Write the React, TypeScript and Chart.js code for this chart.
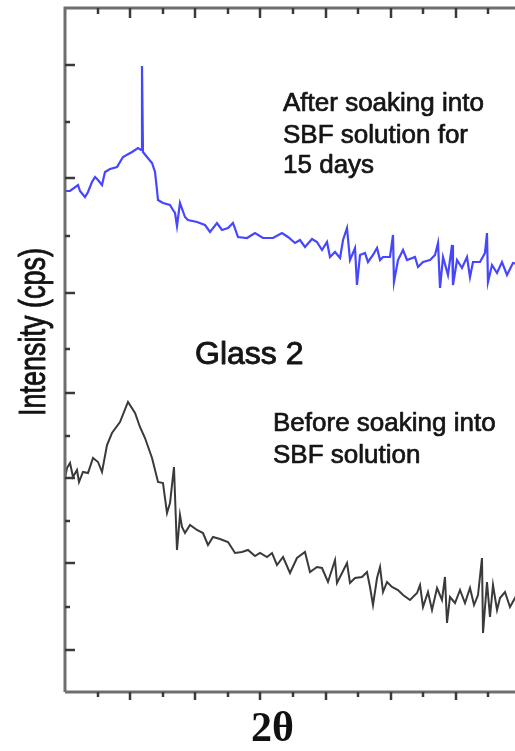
import { useEffect, useRef } from "react";
import { Chart, registerables } from "chart.js";

Chart.register(...registerables);

// ---- Data (2θ in degrees, intensity in cps) ----
const blueTheta = [
  10.0, 10.77, 12.0, 12.3, 13.07, 13.53, 14.14, 14.61, 15.07, 15.68, 16.14, 16.91, 17.98, 18.9, 20.29, 21.21,
  21.67, 21.82, 21.97, 22.59, 23.36, 23.82, 24.12, 24.28, 25.04, 26.12, 26.58, 26.89, 27.19, 27.65, 28.42,
  28.88, 30.26, 31.49, 32.26, 33.33, 34.1, 35.02, 35.79, 36.56, 37.94, 39.17, 40.39, 41.93, 43.31, 44.23,
  45.31, 46.07, 46.84, 47.92, 48.68, 49.45, 50.22, 50.68, 51.45, 52.22, 52.68, 53.29, 53.75, 54.52, 54.82,
  55.29, 56.05, 56.51, 57.28, 57.9, 58.36, 58.82, 59.89, 60.35, 60.5, 61.12, 61.89, 62.5, 63.73, 64.19,
  64.96, 66.03, 66.8, 67.26, 67.57, 68.03, 68.79, 69.41, 69.56, 70.18, 70.94, 71.71, 72.17, 72.63, 73.71,
  74.47, 74.78, 74.93, 75.55, 76.32, 77.08, 77.85, 78.77, 80.0,
];
const blueCps = [
  1002, 1002, 1014, 1002, 990, 1000, 1020, 1030, 1024, 1014, 1040, 1046, 1050, 1070, 1080, 1088,
  1084, 1252, 1080, 1070, 1058, 1040, 1004, 984, 978, 974, 964, 958, 932, 978, 950,
  944, 940, 934, 920, 938, 924, 928, 938, 910, 908, 918, 908, 908, 918, 910,
  898, 904, 890, 906, 900, 884, 900, 870, 880, 868, 904, 928, 864, 888, 814,
  874, 878, 860, 874, 888, 864, 870, 870, 914, 820, 864, 884, 864, 870, 850,
  860, 864, 874, 898, 808, 870, 834, 894, 814, 864, 848, 870, 830, 860, 860,
  878, 918, 820, 854, 838, 860, 834, 858, 854,
];

const blackTheta = [
  10.0, 10.31, 10.77, 11.23, 11.84, 12.15, 12.76, 13.53, 14.3, 15.07, 15.68, 16.45, 17.21, 18.44, 19.67,
  20.75, 21.51, 22.28, 23.36, 24.28, 25.04, 25.66, 26.12, 26.73, 27.19, 27.65, 27.96, 28.42, 29.19, 30.26,
  31.18, 31.95, 32.72, 33.79, 35.02, 36.1, 37.17, 38.09, 39.17, 39.93, 41.01, 41.78, 42.54, 43.47, 44.54,
  45.61, 46.84, 47.61, 48.68, 49.45, 50.37, 51.45, 51.75, 52.22, 53.29, 53.75, 54.52, 55.59, 56.36, 56.82,
  57.28, 57.9, 58.36, 58.82, 59.43, 60.2, 61.12, 61.89, 62.96, 64.04, 64.5, 64.96, 65.72, 66.34, 67.11,
  67.87, 68.33, 68.64, 69.1, 69.87, 70.64, 71.4, 72.17, 72.79, 73.4, 74.01, 74.17, 74.78, 75.24, 75.7,
  76.32, 76.78, 77.54, 78.31, 79.08, 80.0,
];
const blackCps = [
  428, 448, 458, 430, 444, 420, 440, 438, 468, 460, 440, 494, 518, 540, 580,
  558, 530, 508, 468, 420, 418, 358, 378, 450, 284, 354, 330, 318, 334, 324,
  318, 294, 310, 306, 300, 278, 280, 284, 272, 278, 270, 278, 254, 270, 238,
  268, 280, 240, 250, 248, 220, 264, 218, 230, 258, 218, 228, 230, 240, 210,
  174, 228, 250, 200, 220, 210, 204, 194, 184, 198, 214, 170, 200, 164, 208,
  184, 230, 138, 190, 178, 204, 178, 208, 174, 194, 268, 118, 220, 150, 214,
  164, 188, 200, 170, 188, 176,
];

const xMin = 10;
const xMax = 80;
const yMin = 0;
const yMax = 1368;
const xMajorTicks = [20, 30, 40, 50, 60, 70];
const xMinorTicks = [15, 25, 35, 45, 55, 65, 75];
const yMajorTicks = [1254, 1028, 798, 598, 428, 258, 84];
const yMinorTicks = [1140, 912, 686, 512, 342, 170];

const xTitle = "2θ";
const yTitle = "Intensity (cps)";
const afterLines = ["After soaking into", "SBF solution for", "15 days"];
const beforeLines = ["Before soaking into", "SBF solution"];
const sampleLabel = "Glass 2";

const framePlugin = {
  id: "framePlugin",
  afterDraw(chart: any) {
    const ctx = chart.ctx as CanvasRenderingContext2D;
    const { left, right, top, bottom } = chart.chartArea;
    const xs = chart.scales.x;
    const ys = chart.scales.y;
    ctx.save();
    // frame
    ctx.strokeStyle = "#6f6f6f";
    ctx.lineWidth = 3;
    ctx.beginPath();
    ctx.moveTo(left, bottom);
    ctx.lineTo(left, top);
    ctx.lineTo(right, top);
    ctx.lineTo(right, bottom);
    ctx.lineTo(left, bottom);
    ctx.stroke();

    // ticks
    ctx.strokeStyle = "#3a3a3a";
    ctx.lineWidth = 2.5;
    const line = (x1: number, y1: number, x2: number, y2: number) => {
      ctx.beginPath();
      ctx.moveTo(x1, y1);
      ctx.lineTo(x2, y2);
      ctx.stroke();
    };
    xMajorTicks.forEach((v) => {
      const p = Math.round(xs.getPixelForValue(v));
      line(p, top, p, top + 10);
      line(p, bottom, p, bottom + 8);
    });
    xMinorTicks.forEach((v) => {
      const p = Math.round(xs.getPixelForValue(v));
      line(p, top, p, top + 6);
      line(p, bottom, p, bottom + 5);
    });
    yMajorTicks.forEach((v) => {
      const p = Math.round(ys.getPixelForValue(v));
      line(left, p, left + 10, p);
    });
    yMinorTicks.forEach((v) => {
      const p = Math.round(ys.getPixelForValue(v));
      line(left, p, left + 5, p);
    });

    // annotations (slightly heavier, like the scanned figure)
    const heavyText = (t: string, x: number, y: number, w: number) => {
      ctx.fillText(t, x, y);
      ctx.lineWidth = w;
      ctx.strokeText(t, x, y);
    };
    ctx.fillStyle = "#151515";
    ctx.strokeStyle = "#151515";
    ctx.lineJoin = "round";
    ctx.textBaseline = "alphabetic";
    ctx.textAlign = "left";
    ctx.font = "26px 'Liberation Sans', Arial, sans-serif";
    const ax = xs.getPixelForValue(43.47);
    const ay = [1162, 1098, 1038];
    afterLines.forEach((t, i) => heavyText(t, ax, ys.getPixelForValue(ay[i]), 0.7));
    const bx = xs.getPixelForValue(41.93);
    const by = [522, 458];
    beforeLines.forEach((t, i) => heavyText(t, bx, ys.getPixelForValue(by[i]), 0.7));
    ctx.font = "32px 'Liberation Sans', Arial, sans-serif";
    heavyText(sampleLabel, xs.getPixelForValue(29.96), ys.getPixelForValue(656), 0.9);

    // x title
    ctx.fillStyle = "#111";
    ctx.font = "bold 42px 'Liberation Serif', 'Times New Roman', serif";
    ctx.fillText(xTitle, xs.getPixelForValue(38.55), bottom + 49);

    // y title (rotated, slightly stretched across)
    ctx.save();
    ctx.translate(45, 332);
    ctx.rotate(-Math.PI / 2);
    ctx.scale(1, 1.35);
    ctx.textAlign = "center";
    ctx.font = "27px 'Liberation Sans', Arial, sans-serif";
    heavyText(yTitle, 0, 0, 0.7);
    ctx.restore();

    ctx.restore();
  },
};

export default function App() {
  const ref = useRef<HTMLCanvasElement | null>(null);
  useEffect(() => {
    if (!ref.current) return;
    const chart = new Chart(ref.current, {
      type: "line",
      data: {
        datasets: [
          {
            label: "After soaking",
            data: blueTheta.map((x, i) => ({ x, y: blueCps[i] })),
            borderColor: "#4646ff",
            borderWidth: 2.2,
            pointRadius: 0,
            tension: 0,
            fill: false,
          },
          {
            label: "Before soaking",
            data: blackTheta.map((x, i) => ({ x, y: blackCps[i] })),
            borderColor: "#3a3a3a",
            borderWidth: 2,
            pointRadius: 0,
            tension: 0,
            fill: false,
          },
        ],
      },
      options: {
        animation: false,
        responsive: false,
        maintainAspectRatio: false,
        layout: { padding: { left: 65, top: 8, right: 9, bottom: 59 } },
        plugins: { legend: { display: false }, tooltip: { enabled: false } },
        scales: {
          x: { type: "linear", min: xMin, max: xMax, display: false },
          y: { type: "linear", min: yMin, max: yMax, display: false },
        },
      },
      plugins: [framePlugin],
    });
    return () => chart.destroy();
  }, []);
  return (
    <div
      style={{
        position: "fixed",
        left: 0,
        top: 0,
        width: 515,
        height: 751,
        overflow: "hidden",
        background: "#fff",
      }}
    >
      <canvas ref={ref} width={530} height={751} style={{ width: 530, height: 751, display: "block" }} />
    </div>
  );
}
